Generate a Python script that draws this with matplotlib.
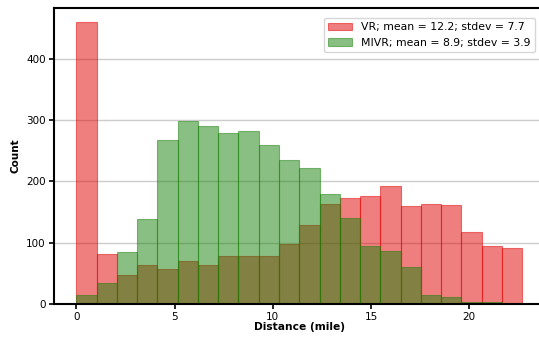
import numpy as np
import matplotlib.pyplot as plt

# histogram counts per distance bin (22 equal bins from 0 to 22.7 miles)
bin_edges = np.linspace(0, 22.7, 23)
vr_counts = [460, 82, 48, 63, 57, 70, 63, 79, 79, 79, 98, 129,
             164, 173, 176, 192, 160, 164, 161, 117, 95, 92]
mivr_counts = [14, 35, 85, 138, 267, 298, 291, 279, 282, 260, 235, 222,
               179, 141, 95, 86, 60, 14, 11, 4, 3, 2]

vr_label = "VR; mean = 12.2; stdev = 7.7"
mivr_label = "MIVR; mean = 8.9; stdev = 3.9"

bin_centers = (bin_edges[:-1] + bin_edges[1:]) / 2

fig = plt.figure(figsize=(5.39, 3.39), dpi=100)
ax = fig.add_axes([0.1002, 0.1032, 0.910, 0.873])

ax.hist(bin_centers, bins=bin_edges, weights=vr_counts, color="#e10000",
        edgecolor="#e10000", linewidth=0.8, alpha=0.5, label=vr_label)
ax.hist(bin_centers, bins=bin_edges, weights=mivr_counts, color="#178108",
        edgecolor="#178108", linewidth=0.8, alpha=0.5, label=mivr_label)

ax.yaxis.grid(True, color="#cccccc", linewidth=1)
ax.set_axisbelow(True)
for side in ["left", "bottom", "top", "right"]:
    ax.spines[side].set_linewidth(1.5)

ax.set_xticks([0, 5, 10, 15, 20])
ax.set_yticks([0, 100, 200, 300, 400])
ax.tick_params(labelsize=7.5, width=1.2, length=3.5, pad=2.5)
ax.set_xlabel("Distance (mile)", fontsize=7.7, fontweight="bold", labelpad=0)
ax.set_ylabel("Count", fontsize=7.5, fontweight="bold", labelpad=4)

ax.legend(loc="upper right", fontsize=7.8, borderaxespad=0.9,
          handlelength=2.2)

fig.savefig("out.png", dpi=100)
